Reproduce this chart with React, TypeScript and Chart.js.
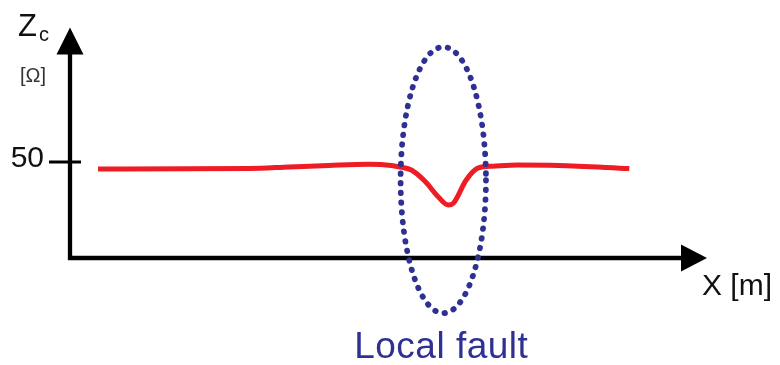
import React, { useEffect, useRef } from "react";
import { Chart, registerables } from "chart.js";

Chart.register(...registerables);

// Characteristic impedance profile along the line
const xMeters = [4.4, 28.1, 34.4, 40.6, 46.9, 49.2, 51.6, 53.6, 55.8, 57.8, 59.4, 60.2, 62.2, 64.1, 66.4, 70.3, 76.6, 87.8];
const zOhms = [46.4, 46.6, 47.4, 48.2, 48.8, 48.6, 47.55, 45.8, 39.7, 31.9, 27.6, 28.6, 40.6, 46.9, 47.8, 48.4, 48.2, 46.6];

// Y tick labels
const yTicks = [50];

// Axis extents (data units)
const xRange = [0, 100];
const zRange = [0, 120];

// Local fault marker: center x, center z, radius x, radius z
const faultCenter = [58.6, 40.6];
const faultRadius = [6.7, 69.3];

const labels = {
  yName: "Z",
  ySub: "c",
  yUnit: "[Ω]",
  xName: "X [m]",
  fault: "Local fault",
};

const FONT = "'Liberation Sans', Arial, sans-serif";
const BLUE = "#2e3192";
const RED = "#ee1c24";

const diagramPlugin = {
  id: "diagram",
  beforeDatasetsDraw(chart: any) {
    const { ctx, scales } = chart;
    const xs = scales.x;
    const ys = scales.y;
    const x0 = xs.getPixelForValue(xRange[0]);
    const x1 = xs.getPixelForValue(xRange[1]);
    const y0 = ys.getPixelForValue(zRange[0]);
    const y1 = ys.getPixelForValue(zRange[1]);
    ctx.save();
    ctx.strokeStyle = "#000";
    ctx.fillStyle = "#000";
    ctx.lineWidth = 4.3;
    // y axis
    ctx.beginPath();
    ctx.moveTo(x0, y0 + 2);
    ctx.lineTo(x0, y1 + 20);
    ctx.stroke();
    ctx.beginPath();
    ctx.moveTo(x0, y1);
    ctx.lineTo(x0 - 13.5, y1 + 27);
    ctx.lineTo(x0 + 13.5, y1 + 27);
    ctx.closePath();
    ctx.fill();
    // x axis
    ctx.lineWidth = 4.3;
    ctx.beginPath();
    ctx.moveTo(x0 - 2, y0);
    ctx.lineTo(x1 - 20, y0);
    ctx.stroke();
    ctx.beginPath();
    ctx.moveTo(x1, y0);
    ctx.lineTo(x1 - 26, y0 - 13.5);
    ctx.lineTo(x1 - 26, y0 + 13.5);
    ctx.closePath();
    ctx.fill();
    // ticks
    ctx.lineWidth = 3;
    ctx.textAlign = "right";
    ctx.textBaseline = "alphabetic";
    ctx.font = `30px ${FONT}`;
    ctx.fillStyle = "#111";
    for (const t of yTicks) {
      const py = ys.getPixelForValue(t);
      ctx.beginPath();
      ctx.moveTo(x0 - 21, py);
      ctx.lineTo(x0 + 11, py);
      ctx.stroke();
      ctx.fillText(String(t), x0 - 26, py + 5);
    }
    // labels
    ctx.textAlign = "left";
    ctx.font = `31px ${FONT}`;
    ctx.fillText(labels.yName, 18, 36);
    ctx.font = `20px ${FONT}`;
    ctx.fillText(labels.ySub, 39, 41);
    ctx.fillStyle = "#333";
    ctx.font = `20px ${FONT}`;
    ctx.fillText(labels.yUnit, 20, 82);
    ctx.fillStyle = "#111";
    ctx.font = `30px ${FONT}`;
    ctx.fillText(labels.xName, 702, 295);
    ctx.restore();
  },
  afterDatasetsDraw(chart: any) {
    const { ctx, scales } = chart;
    const xs = scales.x;
    const ys = scales.y;
    const cx = xs.getPixelForValue(faultCenter[0]);
    const cy = ys.getPixelForValue(faultCenter[1]);
    const rx = xs.getPixelForValue(faultCenter[0] + faultRadius[0]) - cx;
    const ry = cy - ys.getPixelForValue(faultCenter[1] + faultRadius[1]);
    ctx.save();
    ctx.strokeStyle = BLUE;
    ctx.lineWidth = 5.8;
    ctx.lineCap = "round";
    ctx.setLineDash([0.5, 9.2]);
    ctx.beginPath();
    ctx.ellipse(cx, cy, rx, ry, 0, 0, Math.PI * 2);
    ctx.stroke();
    ctx.setLineDash([]);
    ctx.fillStyle = BLUE;
    ctx.textAlign = "center";
    ctx.font = `37px ${FONT}`;
    (ctx as any).letterSpacing = "0.5px";
    ctx.fillText(labels.fault, cx - 2, 358);
    ctx.restore();
  },
};

export default function App() {
  const ref = useRef<HTMLCanvasElement | null>(null);
  useEffect(() => {
    if (!ref.current) return;
    const chart = new Chart(ref.current, {
      type: "line",
      data: {
        datasets: [
          {
            data: xMeters.map((x, i) => ({ x, y: zOhms[i] })),
            borderColor: RED,
            borderWidth: 5,
            pointRadius: 0,
            cubicInterpolationMode: "monotone",
            fill: false,
          },
        ],
      },
      options: {
        responsive: false,
        animation: false,
        events: [],
        layout: { padding: { left: 70, right: 73, top: 27.6, bottom: 107 } },
        plugins: { legend: { display: false }, tooltip: { enabled: false } },
        scales: {
          x: { type: "linear", min: xRange[0], max: xRange[1], display: false },
          y: { type: "linear", min: zRange[0], max: zRange[1], display: false },
        },
      },
      plugins: [diagramPlugin],
    });
    return () => chart.destroy();
  }, []);
  return (
    <div style={{ position: "absolute", left: 0, top: 0, width: 780, height: 365, background: "#fff" }}>
      <canvas ref={ref} width={780} height={365} />
    </div>
  );
}
